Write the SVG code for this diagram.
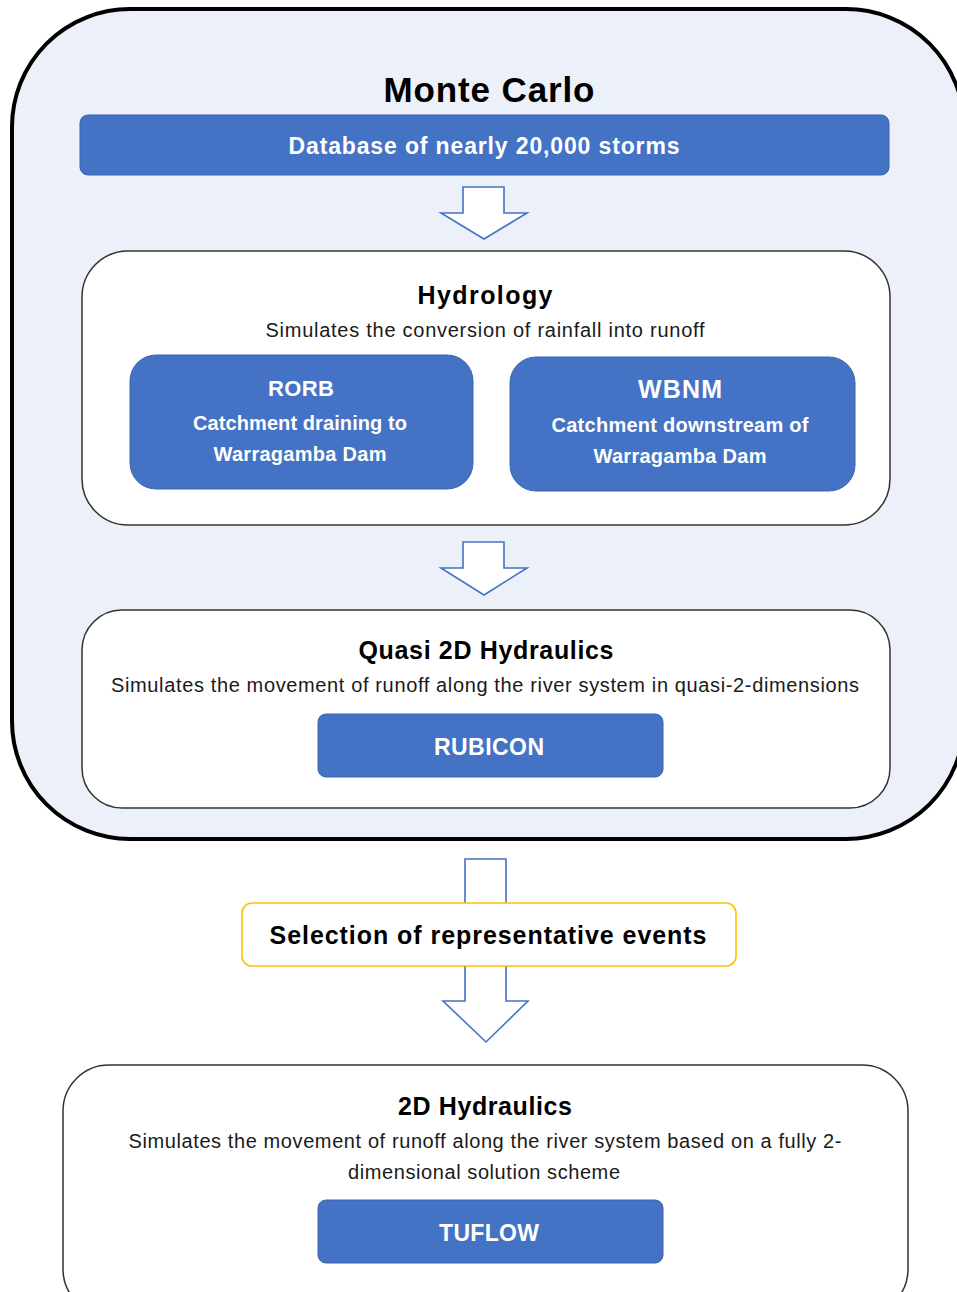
<svg xmlns="http://www.w3.org/2000/svg" width="957" height="1292" viewBox="0 0 957 1292">
<style>
.t{font-family:"Liberation Sans",Arial,sans-serif;text-anchor:middle}
.title{font-weight:bold;fill:#000}
.sub{fill:#1a1a1a}
.wb{font-weight:bold;fill:#fff}
.bluebox{fill:#4472C4;stroke:#3A64B0;stroke-width:1}
.panel{fill:#fff;stroke:#333;stroke-width:1.5}
.arrow{fill:#fff;stroke:#4472C4;stroke-width:1.6;stroke-linejoin:miter}
</style>
<rect width="957" height="1292" fill="#fff"/>
<g id="monte-carlo">
<rect x="12" y="9" width="952" height="830" rx="118" ry="118" fill="#EBF0F9" stroke="#000" stroke-width="4"/>
<text class="t title" x="489" y="102" font-size="35" textLength="211">Monte Carlo</text>
</g>
<g id="database">
<rect class="bluebox" x="80" y="115" width="809" height="60" rx="8"/>
<text class="t wb" x="484" y="154" font-size="23" textLength="391">Database of nearly 20,000 storms</text>
</g>
<g id="hydrology">
<rect class="panel" x="82" y="251" width="808" height="274" rx="46"/>
<text class="t title" x="485" y="304" font-size="25" textLength="135">Hydrology</text>
<text class="t sub" x="485" y="337" font-size="20" textLength="439">Simulates the conversion of rainfall into runoff</text>
</g>
<g id="rorb">
<rect class="bluebox" x="130" y="355" width="343" height="134" rx="26"/>
<text class="t wb" x="301" y="396" font-size="22" textLength="66">RORB</text>
<text class="t wb" x="300" y="430" font-size="20" textLength="214">Catchment draining to</text>
<text class="t wb" x="300" y="461" font-size="20" textLength="173">Warragamba Dam</text>
</g>
<g id="wbnm">
<rect class="bluebox" x="510" y="357" width="345" height="134" rx="26"/>
<text class="t wb" x="680" y="398" font-size="25" textLength="84">WBNM</text>
<text class="t wb" x="680" y="432" font-size="20" textLength="257">Catchment downstream of</text>
<text class="t wb" x="680" y="463" font-size="20" textLength="173">Warragamba Dam</text>
</g>
<g id="quasi-2d">
<rect class="panel" x="82" y="610" width="808" height="198" rx="40"/>
<text class="t title" x="486" y="659" font-size="25" textLength="255">Quasi 2D Hydraulics</text>
<text class="t sub" x="485" y="692" font-size="20" textLength="748">Simulates the movement of runoff along the river system in quasi-2-dimensions</text>
</g>
<g id="rubicon">
<rect class="bluebox" x="318" y="714" width="345" height="63" rx="8"/>
<text class="t wb" x="489" y="755" font-size="23" textLength="110">RUBICON</text>
</g>
<g id="connectors">
<polygon class="arrow" points="463,187 504,187 504,213 527,213 484,239 441,213 463,213"/>
<polygon class="arrow" points="463,542 504,542 504,568 527,568 484,595 441,568 463,568"/>
<polygon class="arrow" points="465,859 506,859 506,1001 528,1001 486,1042 443,1001 465,1001"/>
</g>
<g id="selection">
<rect x="242" y="903" width="494" height="63" rx="10" fill="#fff" stroke="#FFC000" stroke-width="1.6"/>
<text class="t title" x="488" y="944" font-size="25" textLength="437">Selection of representative events</text>
</g>
<g id="hydraulics-2d">
<rect class="panel" x="63" y="1065" width="845" height="250" rx="46"/>
<text class="t title" x="485" y="1115" font-size="25" textLength="174">2D Hydraulics</text>
<text class="t sub" x="485" y="1148" font-size="20" textLength="713">Simulates the movement of runoff along the river system based on a fully 2-</text>
<text class="t sub" x="484" y="1179" font-size="20" textLength="272">dimensional solution scheme</text>
</g>
<g id="tuflow">
<rect class="bluebox" x="318" y="1200" width="345" height="63" rx="8"/>
<text class="t wb" x="489" y="1241" font-size="23" textLength="100">TUFLOW</text>
</g>
</svg>
